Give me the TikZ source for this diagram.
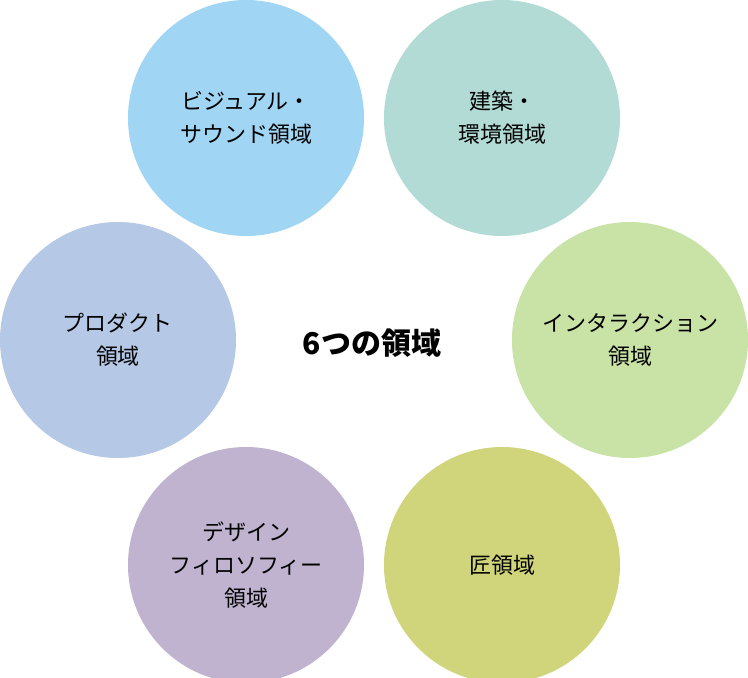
\documentclass[tikz,border=0pt]{standalone}
\usepackage{fontspec}
\setmainfont{Noto Sans CJK JP}
\begin{document}
\begin{tikzpicture}[x=1pt,y=-1pt,
  c/.style={circle,minimum size=236pt,inner sep=0pt,align=center,font=\fontsize{22}{33}\selectfont}]
\useasboundingbox (0,0) rectangle (748,678);
\node[c,fill={rgb,255:red,160;green,214;blue,244}] (vs) at (246,118) {ビジュアル・\\サウンド領域};
\node[c,fill={rgb,255:red,178;green,219;blue,214}] (ar) at (502,118) {建築・\\環境領域};
\node[c,fill={rgb,255:red,201;green,226;blue,166}] (in) at (630,340) {インタラクション\\領域};
\node[c,fill={rgb,255:red,208;green,212;blue,122}] (ta) at (502,565) {匠領域};
\node[c,fill={rgb,255:red,192;green,179;blue,208}] (de) at (246,565) {デザイン\\フィロソフィー\\領域};
\node[c,fill={rgb,255:red,181;green,200;blue,230}] (pr) at (118,340) {プロダクト\\領域};
\node[font=\fontsize{30}{36}\selectfont\bfseries] (t) at (372,343) {6つの領域};
\end{tikzpicture}
\end{document}
